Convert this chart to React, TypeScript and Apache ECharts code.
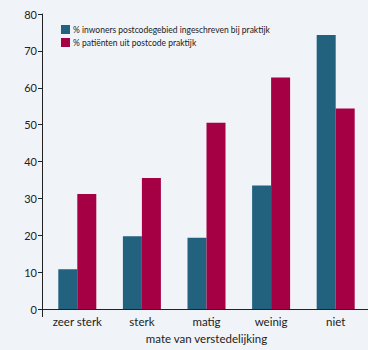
import React, { useEffect, useRef } from "react";
import * as echarts from "echarts";

const categories = ["zeer sterk", "sterk", "matig", "weinig", "niet"];
const inwoners = [10.8, 19.7, 19.3, 33.5, 74.3];
const patienten = [31.2, 35.5, 50.5, 62.8, 54.4];
const seriesNames = [
  "% inwoners postcodegebied ingeschreven bij praktijk",
  "% patiënten uit postcode praktijk",
];
const xAxisTitle = "mate van verstedelijking";

const FONT = "Lato, 'Open Sans', sans-serif";

export default function App() {
  const ref = useRef<HTMLDivElement>(null);
  useEffect(() => {
    document.body.style.margin = "0";
    if (!ref.current) return;
    const chart = echarts.init(ref.current, null, { renderer: "svg" });
    chart.setOption({
      animation: false,
      backgroundColor: "#f0f3f8",
      textStyle: { fontFamily: FONT },
      legend: {
        orient: "vertical",
        left: 56,
        top: 20,
        itemWidth: 9,
        itemHeight: 9,
        itemGap: 4,
        icon: "rect",
        textStyle: { fontSize: 8.5, color: "#222", fontFamily: FONT, padding: [0, 0, 0, -2] },
        data: seriesNames,
      },
      grid: { left: 45, right: -2, top: 14, bottom: 41, containLabel: false },
      xAxis: {
        type: "category",
        data: categories,
        name: xAxisTitle,
        nameLocation: "middle",
        nameGap: 23,
        nameTextStyle: { fontSize: 11.5, color: "#222", fontFamily: FONT },
        axisLine: { lineStyle: { color: "#222", width: 1 } },
        axisTick: { show: false },
        axisLabel: { fontSize: 11.5, color: "#222", margin: 6, fontFamily: FONT },
      },
      yAxis: {
        type: "value",
        min: 0,
        max: 80,
        interval: 10,
        offset: 3,
        axisLine: { show: true, lineStyle: { color: "#222", width: 1 } },
        axisTick: { show: true, length: 4, lineStyle: { color: "#222" } },
        axisLabel: { fontSize: 11, color: "#222", margin: 5, fontFamily: FONT },
        splitLine: { show: false },
      },
      series: [
        {
          name: seriesNames[0],
          type: "bar",
          data: inwoners,
          barWidth: 19,
          barGap: "0%",
          itemStyle: { color: "#22627e" },
        },
        {
          name: seriesNames[1],
          type: "bar",
          data: patienten,
          barWidth: 19,
          barGap: "0%",
          itemStyle: { color: "#a60044" },
        },
      ],
      graphic: [
        {
          type: "line",
          shape: { x1: 42.5, y1: 309, x2: 42.5, y2: 317 },
          style: { stroke: "#222", lineWidth: 1 },
        },
        {
          type: "line",
          shape: { x1: 39, y1: 309.5, x2: 46, y2: 309.5 },
          style: { stroke: "#222", lineWidth: 1 },
        },
      ],
    });
    return () => chart.dispose();
  }, []);
  return <div ref={ref} style={{ width: 368, height: 350 }} />;
}
